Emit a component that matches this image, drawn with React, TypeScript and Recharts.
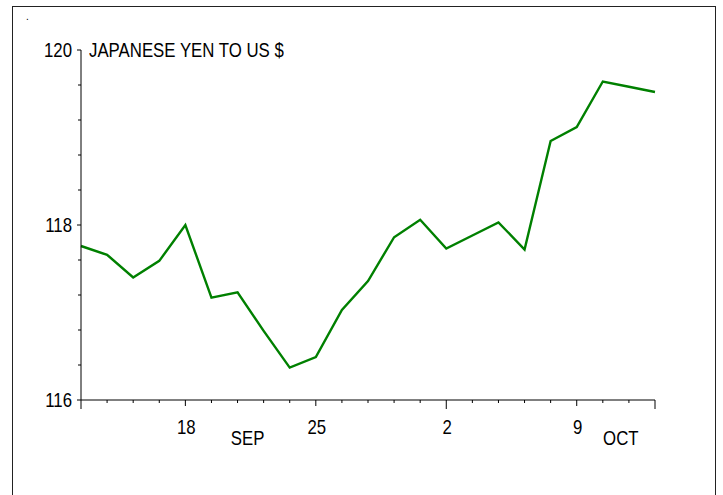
import { LineChart, Line, XAxis, YAxis } from "recharts";

// business days, 12 Sep - 12 Oct 2006
const dates = [
  "2006-09-12", "2006-09-13", "2006-09-14", "2006-09-15",
  "2006-09-18", "2006-09-19", "2006-09-20", "2006-09-21", "2006-09-22",
  "2006-09-25", "2006-09-26", "2006-09-27", "2006-09-28", "2006-09-29",
  "2006-10-02", "2006-10-03", "2006-10-04", "2006-10-05", "2006-10-06",
  "2006-10-09", "2006-10-10", "2006-10-11", "2006-10-12",
];
const yen = [
  117.76, 117.66, 117.40, 117.59,
  118.00, 117.17, 117.23, 116.79, 116.37,
  116.49, 117.03, 117.36, 117.86, 118.06,
  117.73, 117.88, 118.03, 117.72, 118.96,
  119.12, 119.64, 119.58, 119.52,
];
const yTicks = [116, 116.4, 116.8, 117.2, 117.6, 118, 118.4, 118.8, 119.2, 119.6, 120];
const yLabels = [116, 118, 120];
const monthNames = ["SEP", "OCT"];
const title = "JAPANESE YEN TO US $";

// no narrow font installed, so squeeze the regular one
const FONT = '"Liberation Sans", Arial, sans-serif';
const SQ = 0.84;

const data = dates.map((d, i) => ({ i, date: d, yen: yen[i] }));

const parse = (s: string) => new Date(s + "T00:00:00Z");

function Txt({ x, y, anchor, children }: any) {
  return (
    <text
      transform={`translate(${x},${y}) scale(${SQ},1)`}
      textAnchor={anchor}
      fontSize={20}
      fontFamily={FONT}
      fill="#000"
    >
      {children}
    </text>
  );
}

function XTick(props: any) {
  const { x, y, payload } = props;
  const i = payload.value as number;
  const d = parse(dates[i]);
  const isMonday = d.getUTCDay() === 1;
  const prev = i > 0 ? parse(dates[i - 1]) : null;
  const monthStart = prev !== null && prev.getUTCMonth() !== d.getUTCMonth();
  const isEnd = i === 0 || i === dates.length - 1;
  const len = isEnd || monthStart ? 9 : isMonday ? 6 : 3;
  let month: string | null = null;
  let mdx = 0;
  if (dates[i] === "2006-09-20") { month = monthNames[0]; mdx = 10; }
  if (dates[i] === "2006-10-10") { month = monthNames[1]; mdx = 18; }
  return (
    <g>
      <line x1={x} x2={x} y1={y} y2={y + len} stroke="#000" strokeWidth={1} />
      {isMonday && (
        <Txt x={x + 1} y={y + 34} anchor="middle">
          {String(d.getUTCDate())}
        </Txt>
      )}
      {month && (
        <Txt x={x + mdx} y={y + 45} anchor="middle">
          {month}
        </Txt>
      )}
    </g>
  );
}

function YTick(props: any) {
  const { x, y, payload } = props;
  const v = payload.value as number;
  const major = yLabels.includes(v);
  return (
    <g>
      <line x1={x - (major ? 4 : 3)} x2={x} y1={y} y2={y} stroke="#000" strokeWidth={1} />
      {major && (
        <Txt x={x - 9} y={y + 7} anchor="end">
          {v}
        </Txt>
      )}
    </g>
  );
}

export default function App() {
  return (
    <div
      style={{
        position: "absolute",
        left: 0,
        top: 0,
        width: 723,
        height: 495,
        background: "#fff",
        overflow: "hidden",
        fontFamily: FONT,
      }}
    >
      <div
        style={{
          position: "absolute",
          left: 12,
          top: 6,
          width: 702,
          height: 600,
          border: "1px solid #222",
        }}
      />
      <div style={{ position: "absolute", left: 26, top: 12, fontSize: 10, lineHeight: "10px" }}>.</div>
      <LineChart
        width={723}
        height={495}
        data={data}
        margin={{ top: 50, right: 68, bottom: 65, left: 21 }}
        style={{ position: "absolute", left: 0, top: 0 }}
      >
        <XAxis
          dataKey="i"
          type="number"
          domain={[0, dates.length - 1]}
          ticks={dates.map((_, i) => i)}
          interval={0}
          height={30}
          tickSize={0}
          tickMargin={0}
          tickLine={false}
          tick={<XTick />}
          axisLine={{ stroke: "#000", strokeWidth: 1 }}
        />
        <YAxis
          type="number"
          domain={[116, 120]}
          ticks={yTicks}
          interval={0}
          width={60}
          tickSize={0}
          tickMargin={0}
          tickLine={false}
          tick={<YTick />}
          axisLine={{ stroke: "#000", strokeWidth: 1 }}
        />
        <Line
          type="linear"
          dataKey="yen"
          stroke="#008000"
          strokeWidth={2.4}
          dot={false}
          isAnimationActive={false}
        />
      </LineChart>
      <div
        style={{
          position: "absolute",
          left: 89,
          top: 40,
          fontSize: 20,
          lineHeight: "20px",
          color: "#000",
          whiteSpace: "nowrap",
          transform: `scaleX(${SQ})`,
          transformOrigin: "left top",
        }}
      >
        {title}
      </div>
    </div>
  );
}
